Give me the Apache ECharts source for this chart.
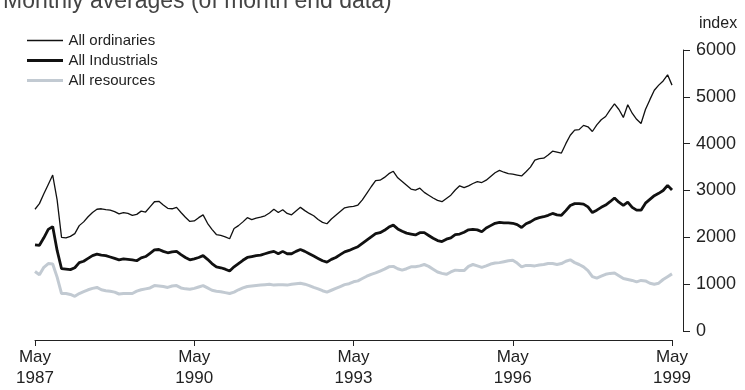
<!DOCTYPE html>
<html>
<head>
<meta charset="utf-8">
<script src="https://cdn.jsdelivr.net/npm/echarts@6/dist/echarts.min.js"></script>
<style>
  html, body {margin:0;padding:0;background:#fff;}
  #chart {width:745px;height:390px;}
</style>
</head>
<body>
<div id="chart"></div>
<script>
// monthly index values, May 1987 .. May 1999
var startYear = 1987;
var tickYears = ['1987', '1990', '1993', '1996', '1999'];
var seriesNames = ['All ordinaries', 'All Industrials', 'All resources'];

var ordinaries = [
  2600,2720,2930,3130,3330,2800,2000,1990,2020,2080,2250,2330,2440,2530,2600,2610,
  2590,2580,2550,2500,2530,2510,2470,2490,2560,2540,2650,2760,2770,2690,2620,2610,
  2640,2530,2430,2340,2350,2420,2480,2300,2170,2060,2040,2010,1970,2190,2250,2330,
  2420,2380,2410,2430,2460,2520,2600,2530,2590,2510,2480,2560,2640,2570,2510,2460,
  2380,2320,2290,2390,2470,2550,2630,2650,2660,2690,2800,2940,3080,3210,3220,3280,
  3360,3410,3270,3190,3110,3030,3010,3050,2960,2900,2840,2790,2760,2830,2900,3010,
  3100,3060,3100,3150,3190,3170,3220,3300,3380,3430,3390,3360,3350,3330,3310,3400,
  3500,3650,3680,3690,3760,3840,3820,3800,4000,4180,4290,4300,4390,4360,4260,4400,
  4510,4580,4720,4850,4730,4560,4830,4650,4520,4430,4730,4940,5140,5250,5340,5470,
  5250
];
var industrials = [
  1840,1830,1990,2170,2230,1720,1330,1320,1310,1350,1460,1490,1550,1610,1640,1620,
  1610,1580,1550,1520,1540,1530,1520,1500,1560,1590,1660,1730,1740,1700,1670,1690,
  1700,1630,1570,1520,1540,1570,1610,1530,1440,1370,1350,1320,1280,1370,1440,1510,
  1570,1590,1610,1620,1650,1680,1700,1650,1700,1650,1650,1700,1740,1700,1650,1600,
  1550,1500,1470,1530,1570,1630,1690,1720,1760,1800,1870,1940,2010,2080,2100,2150,
  2220,2260,2180,2130,2090,2070,2050,2100,2100,2040,1980,1930,1910,1960,1990,2060,
  2070,2110,2160,2170,2160,2120,2200,2250,2300,2320,2310,2310,2300,2270,2210,2290,
  2330,2390,2420,2440,2470,2510,2480,2470,2570,2680,2720,2720,2710,2650,2530,2580,
  2640,2690,2760,2840,2750,2680,2750,2640,2580,2580,2730,2810,2890,2940,3000,3110,
  3010
];
var resources = [
  1270,1200,1360,1440,1430,1150,800,800,780,740,800,840,880,910,930,880,
  860,850,830,790,800,800,800,850,880,900,920,970,960,950,930,960,
  970,920,900,890,910,940,970,920,870,850,840,820,800,830,880,920,
  950,960,970,980,990,1000,980,990,990,980,1000,1010,1020,1000,970,930,
  900,860,830,870,910,950,990,1010,1050,1070,1120,1170,1210,1240,1280,1320,
  1370,1380,1330,1300,1330,1370,1370,1390,1420,1380,1320,1260,1230,1210,1260,1300,
  1290,1290,1380,1420,1390,1360,1390,1430,1450,1460,1480,1500,1510,1450,1370,1400,
  1400,1390,1410,1420,1440,1440,1420,1440,1490,1520,1460,1420,1370,1290,1160,1130,
  1170,1210,1230,1240,1180,1120,1100,1080,1050,1080,1070,1020,1000,1020,1100,1160,
  1220
];

function toPairs(arr){
  return arr.map(function(v, i){ return [i, v]; });
}
// legend swatch: a bar of given thickness, kept inside a 14px tall box
function swatch(h){
  var y0 = 7 - h / 2, y1 = 7 + h / 2;
  return 'path://M0,0 L0,14 M0,' + y0 + ' L36,' + y0 + ' L36,' + y1 + ' L0,' + y1 + ' Z';
}

var myChart = echarts.init(document.getElementById('chart'));
var txt = '#222';
var colors = ['#111', '#111', '#c2cad2'];
var option = {
  animation: false,
  textStyle: {fontFamily: 'Liberation Sans, Arial, sans-serif'},
  graphic: [{
    type: 'text',
    left: 3,
    top: -10,
    style: {text: 'Monthly averages (of month end data)', font: '23px Liberation Sans', fill: '#444'}
  }],
  legend: {
    orient: 'vertical',
    left: 22,
    top: 28,
    itemWidth: 37,
    itemHeight: 14,
    itemGap: 5,
    textStyle: {fontSize: 15, color: txt},
    data: [
      {name: seriesNames[0], icon: swatch(1.3), itemStyle: {color: colors[0], borderWidth: 0}},
      {name: seriesNames[1], icon: swatch(2.8), itemStyle: {color: colors[1], borderWidth: 0}},
      {name: seriesNames[2], icon: swatch(3), itemStyle: {color: colors[2], borderWidth: 0}}
    ]
  },
  grid: {left: 35, right: 73, top: 50, bottom: 59},
  xAxis: {
    type: 'value',
    min: 0,
    max: 144,
    interval: 36,
    offset: 9,
    splitLine: {show: false},
    axisLine: {onZero: false, lineStyle: {color: '#222', width: 1}},
    axisTick: {length: 6, lineStyle: {color: '#222'}},
    axisLabel: {
      color: txt, fontSize: 17, lineHeight: 21, margin: 7,
      formatter: function(v){ return 'May\n' + tickYears[v / 36]; }
    }
  },
  yAxis: {
    type: 'value',
    position: 'right',
    offset: 11,
    min: 0,
    max: 6000,
    interval: 1000,
    name: 'index',
    nameGap: 18,
    nameTextStyle: {color: txt, fontSize: 16, align: 'center', padding: [0, 0, 0, 70]},
    splitLine: {show: false},
    axisLine: {show: true, onZero: false, lineStyle: {color: '#222', width: 1}},
    axisTick: {show: true, length: 7, lineStyle: {color: '#222'}},
    axisLabel: {color: txt, fontSize: 18, margin: 13, formatter: function(v){ return String(v); }}
  },
  series: [
    {
      name: seriesNames[0], type: 'line', symbol: 'none', z: 4,
      lineStyle: {color: colors[0], width: 1.3},
      itemStyle: {color: colors[0]},
      data: toPairs(ordinaries)
    },
    {
      name: seriesNames[1], type: 'line', symbol: 'none', z: 3,
      lineStyle: {color: colors[1], width: 2.8},
      itemStyle: {color: colors[1]},
      data: toPairs(industrials)
    },
    {
      name: seriesNames[2], type: 'line', symbol: 'none', z: 2,
      lineStyle: {color: colors[2], width: 3},
      itemStyle: {color: colors[2]},
      data: toPairs(resources)
    }
  ]
};
myChart.setOption(option);
</script>
</body>
</html>
